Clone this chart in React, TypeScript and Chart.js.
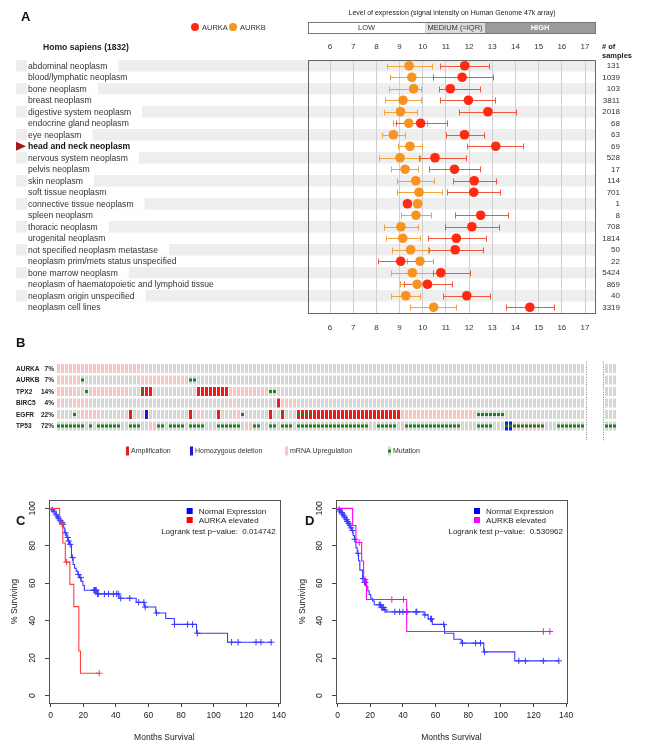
import React, { useEffect, useRef } from 'react';
import { Chart, registerables } from 'chart.js';
Chart.register(...registerables);

const SANS = '"Liberation Sans", Arial, Helvetica, sans-serif';

// ---------------- Panel A data ----------------
const categories = [
  'abdominal neoplasm', 'blood/lymphatic neoplasm', 'bone neoplasm', 'breast neoplasm',
  'digestive system neoplasm', 'endocrine gland neoplasm', 'eye neoplasm', 'head and neck neoplasm',
  'nervous system neoplasm', 'pelvis neoplasm', 'skin neoplasm', 'soft tissue neoplasm',
  'connective tissue neoplasm', 'spleen neoplasm', 'thoracic neoplasm', 'urogenital neoplasm',
  'not specified neoplasm metastase', 'neoplasm prim/mets status unspecified', 'bone marrow neoplasm',
  'neoplasm of haematopoietic and lymphoid tissue', 'neoplasm origin unspecified', 'neoplasm cell lines',
];
const highlightCategory = 'head and neck neoplasm';
const sampleCounts = [131, 1039, 103, 3811, 2018, 68, 63, 69, 528, 17, 114, 701, 1, 8, 708, 1814, 50, 22, 5424, 869, 40, 3319];
const aurkaMean = [11.81, 11.70, 11.19, 11.97, 12.81, 9.91, 11.80, 13.15, 10.53, 11.37, 12.22, 12.20, 9.34, 12.50, 12.12, 11.45, 11.40, 9.05, 10.78, 10.20, 11.90, 14.62];
const aurkaLow = [10.76, 10.43, 10.69, 10.76, 11.55, 8.85, 10.99, 11.93, 9.86, 10.29, 11.31, 11.05, null, 11.38, 10.95, 10.22, 10.29, 8.09, 10.46, 9.21, 10.86, 13.58];
const aurkaHigh = [12.88, 13.01, 12.45, 13.12, 14.03, 11.04, 12.63, 14.33, 11.87, 12.46, 13.18, 13.35, null, 13.67, 13.29, 12.71, 12.62, 9.95, 12.03, 11.25, 12.92, 15.68];
const aurkbMean = [9.41, 9.53, 9.61, 9.15, 9.04, 9.40, 8.73, 9.45, 9.02, 9.24, 9.70, 9.84, 9.78, 9.71, 9.06, 9.14, 9.48, 9.88, 9.55, 9.76, 9.27, 10.47];
const aurkbLow = [8.45, 8.59, 8.53, 8.39, 8.35, 8.70, 8.23, 8.92, 8.13, 8.65, 8.88, 8.88, null, 9.08, 8.35, 8.40, 8.66, 9.30, 8.65, 9.04, 8.62, 9.47];
const aurkbHigh = [10.39, 10.43, 9.91, 9.91, 9.77, 10.20, 9.24, 9.99, 9.88, 9.81, 10.50, 10.85, null, 10.37, 9.81, 9.90, 10.22, 10.46, 10.46, 10.35, 9.90, 11.45];
const levelLabels = ['LOW', 'MEDIUM (=IQR)', 'HIGH'];
const levelBreaks = [10.1, 12.69];
const exprMin = 5.051;
const exprMax = 17.431;

// ---------------- Panel B data ----------------
const oncoGenes = ['AURKA', 'AURKB', 'TPX2', 'BIRC5', 'EGFR', 'TP53'];
const oncoPercents = ['7%', '7%', '14%', '4%', '22%', '72%'];
const mainCaseCount = 132;
const gapCaseCount = 5;
const extraCaseCount = 3;
const mrnaUpRuns = [
  [[0, 20]],
  [[0, 5], [21, 32]],
  [[0, 4], [8, 17], [43, 52]],
  [[0, 1], [4, 7], [43, 43], [56, 59]],
  [[6, 10], [35, 36], [44, 45], [86, 104]],
  [[23, 24], [47, 48], [86, 86], [114, 121]],
];
const amplificationRuns = [[], [], [[21, 23], [35, 42]], [[55, 55]], [[18, 18], [33, 33], [40, 40], [53, 53], [56, 56], [60, 85]], []];
const deletionRuns = [[], [], [], [], [[22, 22]], [[112, 113]]];
const mutationRuns = [
  [],
  [[6, 6], [33, 34]],
  [[7, 7], [21, 21], [53, 54]],
  [],
  [[4, 4], [46, 46], [56, 56], [60, 63], [105, 111]],
  [[0, 6], [8, 8], [10, 15], [18, 20], [25, 26], [28, 31], [33, 36], [40, 45], [49, 50], [53, 54], [56, 58], [60, 77], [80, 84], [87, 100], [105, 108], [112, 121], [125, 131]],
];
const extraMutationRuns = [[], [], [], [], [], [[0, 2]]];
const legendItemsB = ['Amplification', 'Homozygous deletion', 'mRNA Upregulation', 'Mutation'];

// ---------------- Panels C / D data ----------------
const cNormalTimes = [0.5, 1.5, 2.5, 3.2, 4.0, 4.8, 5.5, 6.3, 7.2, 8.0, 8.7, 9.8, 10.6, 11.6, 12.8, 13.8, 14.7, 15.7, 16.7, 17.7, 18.7, 19.8, 20.7, 28.5, 42, 52.5, 57.5, 64.5, 70.6, 75.9, 89.5, 108.5];
const cNormalSurv = [99.3, 98.5, 97.5, 96.5, 95.5, 94.5, 93.5, 92.5, 91.5, 89.5, 87, 84.5, 82.6, 80.8, 73.7, 70, 68, 66.5, 64.7, 63, 61, 58.8, 56.3, 54.3, 52, 49.8, 47.3, 44.1, 41.2, 38, 33.3, 28.5];
const cNormalEnd = 135.3;
const cNormalCensor = [1, 2, 3.5, 4.5, 5, 6, 7, 7.5, 9, 10.5, 11, 12, 13.5, 17, 18.5, 26.5, 27, 27.5, 28, 28.8, 29.2, 33, 35.5, 38.5, 40.5, 41.5, 43, 48.5, 54, 57.2, 58, 65, 76, 84, 87, 90, 111, 115, 126, 129, 135.3];
const cElevTimes = [5.5, 7.5, 9.0, 11.8, 14.2, 17.3, 18.3];
const cElevSurv = [91.7, 81.5, 71.3, 59.4, 47.5, 23.8, 11.9];
const cElevEnd = 29.8;
const cElevCensor = [7.0, 9.8, 29.8];

const dNormalTimes = [0.5, 1.2, 2.0, 2.8, 3.5, 4.3, 5.0, 5.7, 6.4, 7.1, 7.8, 8.6, 9.5, 10.2, 11.2, 12.0, 12.8, 13.6, 15.3, 16.3, 17.3, 18.5, 19.3, 20.3, 21.4, 22.4, 26.8, 28.5, 29.6, 52.9, 55.5, 58, 65.5, 71.2, 75.7, 89.5, 108.5];
const dNormalSurv = [99.3, 98.6, 97.8, 97, 96, 95, 94, 93, 92, 91, 89.6, 88.2, 85.5, 83.5, 79, 76, 72, 67, 62.5, 60.5, 58.4, 56, 54, 52, 50.5, 48.5, 47, 45.8, 44.7, 43.1, 40.9, 38, 33.3, 30.1, 28, 23.3, 18.5];
const dNormalEnd = 135.5;
const dNormalCensor = [1, 1.5, 2.5, 3, 4, 4.5, 5.5, 6, 6.8, 7.5, 8.2, 9, 10.5, 12.5, 15.5, 16.5, 17, 25.5, 26.3, 27, 27.6, 28.2, 29, 35, 38, 40, 42.5, 48, 48.5, 53.5, 57, 57.5, 65, 76.5, 84.5, 87.5, 90, 111, 115, 126, 135.5];
const dElevTimes = [9.2, 11.2, 14.7, 15.9, 17.7, 42.3];
const dElevSurv = [90.9, 81.8, 71.9, 62, 51.3, 34.2];
const dElevEnd = 130;
const dElevCensor = [13.2, 16.8, 33.2, 40.3, 126, 130];

// ---------------- Panel A ----------------
const panelAPlugin = {
  id: 'panelADecor',
  beforeDraw(chart: any) {
    const { ctx, chartArea: ca } = chart;
    const y = chart.scales.y;
    const rowH = (ca.bottom - ca.top) / categories.length;
    ctx.save();
    categories.forEach((name, i) => {
      const yc = y.getPixelForValue(i);
      const bold = name === highlightCategory;
      ctx.font = `${bold ? 'bold ' : ''}8.6px ${SANS}`;
      if (i % 2 === 0) {
        ctx.fillStyle = '#eeeeee';
        ctx.fillRect(16, yc - rowH / 2, ca.right - 16, rowH);
        const w = ctx.measureText(name).width;
        ctx.fillStyle = '#ffffff';
        ctx.fillRect(27, yc - rowH / 2, w + 12, rowH);
      }
      ctx.fillStyle = bold ? '#111' : '#333';
      ctx.textBaseline = 'middle';
      ctx.textAlign = 'left';
      ctx.fillText(name, 28, yc + 0.5);
      if (bold) {
        ctx.fillStyle = '#a31a1a';
        ctx.beginPath();
        ctx.moveTo(16, yc - 4.5);
        ctx.lineTo(26, yc);
        ctx.lineTo(16, yc + 4.5);
        ctx.closePath();
        ctx.fill();
      }
    });
    ctx.restore();
  },
  beforeDatasetsDraw(chart: any) {
    const { ctx } = chart;
    const x = chart.scales.x;
    const y = chart.scales.y;
    const drawBars = (lows: (number | null)[], highs: (number | null)[], color: string) => {
      ctx.strokeStyle = color;
      ctx.lineWidth = 1;
      lows.forEach((lo, i) => {
        const hi = highs[i];
        if (lo == null || hi == null) return;
        const yc = Math.round(y.getPixelForValue(i)) + 0.5;
        const x1 = Math.round(x.getPixelForValue(lo)) + 0.5;
        const x2 = Math.round(x.getPixelForValue(hi)) + 0.5;
        ctx.beginPath();
        ctx.moveTo(x1, yc); ctx.lineTo(x2, yc);
        ctx.moveTo(x1, yc - 3); ctx.lineTo(x1, yc + 3);
        ctx.moveTo(x2, yc - 3); ctx.lineTo(x2, yc + 3);
        ctx.stroke();
      });
    };
    ctx.save();
    drawBars(aurkbLow, aurkbHigh, '#f4a23c');
    drawBars(aurkaLow, aurkaHigh, '#f2563a');
    ctx.restore();
  },
  afterDraw(chart: any) {
    const { ctx, chartArea: ca } = chart;
    const x = chart.scales.x;
    const y = chart.scales.y;
    ctx.save();
    // plot frame
    ctx.strokeStyle = '#666';
    ctx.lineWidth = 1;
    ctx.strokeRect(Math.round(ca.left) + 0.5, Math.round(ca.top) + 0.5, Math.round(ca.right - ca.left), Math.round(ca.bottom - ca.top));
    // panel letter
    ctx.fillStyle = '#111';
    ctx.font = `bold 13px ${SANS}`;
    ctx.textBaseline = 'middle';
    ctx.textAlign = 'left';
    ctx.fillText('A', 21, 17);
    // title
    ctx.font = `bold 8.6px ${SANS}`;
    ctx.fillStyle = '#222';
    ctx.fillText('Homo sapiens (1832)', 43, 47.5);
    // legend
    const leg = [['AURKA', '#ff2a10', 195], ['AURKB', '#f7931e', 233]] as [string, string, number][];
    ctx.font = `7.5px ${SANS}`;
    leg.forEach(([t, c, lx]) => {
      ctx.fillStyle = c;
      ctx.beginPath();
      ctx.arc(lx, 27, 4, 0, Math.PI * 2);
      ctx.fill();
      ctx.fillStyle = '#333';
      ctx.fillText(t, lx + 7, 27.5);
    });
    // expression level header and bar
    ctx.font = `7px ${SANS}`;
    ctx.textAlign = 'center';
    ctx.fillStyle = '#222';
    ctx.fillText('Level of expression (signal intensity on Human Genome 47k array)', 452, 13.5);
    const bx = [x.getPixelForValue(exprMin), x.getPixelForValue(levelBreaks[0]), x.getPixelForValue(levelBreaks[1]), x.getPixelForValue(exprMax)].map((v: number) => Math.round(v));
    const fills = ['#ffffff', '#dcdcdc', '#9b9b9b'];
    const txtCol = ['#333', '#333', '#ffffff'];
    for (let k = 0; k < 3; k++) {
      ctx.fillStyle = fills[k];
      ctx.fillRect(bx[k], 22, bx[k + 1] - bx[k], 11);
      ctx.font = `${k === 2 ? 'bold ' : ''}7.5px ${SANS}`;
      ctx.fillStyle = txtCol[k];
      ctx.fillText(levelLabels[k], (bx[k] + bx[k + 1]) / 2, 28);
    }
    ctx.strokeStyle = '#777';
    ctx.strokeRect(bx[0] + 0.5, 22.5, bx[3] - bx[0], 11);
    // samples
    ctx.textAlign = 'left';
    ctx.font = `bold 7.5px ${SANS}`;
    ctx.fillStyle = '#222';
    ctx.fillText('# of', 602, 47);
    ctx.fillText('samples', 602, 56);
    ctx.textAlign = 'right';
    ctx.font = `8px ${SANS}`;
    ctx.fillStyle = '#333';
    sampleCounts.forEach((n, i) => {
      ctx.fillText(String(n), 620, y.getPixelForValue(i) + 0.5);
    });
    ctx.restore();
  },
};

function panelAConfig(): any {
  const tickFont = { family: SANS, size: 8 };
  return {
    type: 'scatter',
    data: {
      datasets: [
        {
          label: 'AURKA',
          data: aurkaMean.map((v, i) => ({ x: v, y: categories[i] })),
          pointRadius: 4.8,
          pointBackgroundColor: '#ff2a10',
          pointBorderWidth: 0,
          borderWidth: 0,
        },
        {
          label: 'AURKB',
          data: aurkbMean.map((v, i) => ({ x: v, y: categories[i] })),
          pointRadius: 4.8,
          pointBackgroundColor: '#f7931e',
          pointBorderWidth: 0,
          borderWidth: 0,
        },
      ],
    },
    options: {
      responsive: false,
      animation: false,
      events: [],
      layout: { padding: { left: 308, right: 52, top: 40, bottom: 7 } },
      plugins: { legend: { display: false }, tooltip: { enabled: false } },
      scales: {
        x: {
          type: 'linear', position: 'bottom', min: exprMin, max: exprMax,
          afterFit: (s: any) => { s.height = 20; },
          border: { display: false },
          grid: { color: '#cfcfcf', drawTicks: false },
          ticks: { stepSize: 1, includeBounds: false, padding: 10, color: '#333', font: tickFont },
        },
        x2: {
          type: 'linear', position: 'top', min: exprMin, max: exprMax,
          afterFit: (s: any) => { s.height = 20; },
          border: { display: false },
          grid: { display: false, drawTicks: false },
          ticks: { stepSize: 1, includeBounds: false, padding: 8, color: '#333', font: tickFont },
        },
        y: { type: 'category', labels: categories, offset: true, display: false },
      },
    },
    plugins: [panelAPlugin],
  };
}

// ---------------- Panel B ----------------
const totalCols = mainCaseCount + gapCaseCount + extraCaseCount;
const colorCells = { none: '#d6d6d6', up: '#f4c6c6', amp: '#ec1b1b', del: '#1515e6' };

function buildOnco() {
  const fill = (runs: number[][], offset: number, arr: any[], val: any) => {
    runs.forEach(([a, b]) => { for (let c = a; c <= b; c++) arr[c + offset] = val; });
  };
  const colors = oncoGenes.map((_, g) => {
    const arr: string[] = new Array(totalCols).fill(colorCells.none);
    fill(mrnaUpRuns[g], 0, arr, colorCells.up);
    fill(amplificationRuns[g], 0, arr, colorCells.amp);
    fill(deletionRuns[g], 0, arr, colorCells.del);
    return arr;
  });
  const muts = oncoGenes.map((_, g) => {
    const arr: boolean[] = new Array(totalCols).fill(false);
    fill(mutationRuns[g], 0, arr, true);
    fill(extraMutationRuns[g], mainCaseCount + gapCaseCount, arr, true);
    return arr;
  });
  return { colors, muts };
}

const isGap = (c: number) => c >= mainCaseCount && c < mainCaseCount + gapCaseCount;

const panelBPlugin = {
  id: 'panelBDecor',
  afterDraw(chart: any) {
    const { ctx } = chart;
    const x = chart.scales.x;
    const y = chart.scales.y;
    ctx.save();
    ctx.fillStyle = '#111';
    ctx.font = `bold 13px ${SANS}`;
    ctx.textBaseline = 'middle';
    ctx.textAlign = 'left';
    ctx.fillText('B', 16, 8);
    ctx.font = `bold 6.5px ${SANS}`;
    oncoGenes.forEach((g, gi) => {
      const yc = y.getPixelForValue(gi + 0.5);
      ctx.fillStyle = '#222';
      ctx.textAlign = 'left';
      ctx.fillText(g, 16, yc + 0.5);
      ctx.textAlign = 'right';
      ctx.fillText(oncoPercents[gi], 54, yc + 0.5);
    });
    // dotted separators
    ctx.strokeStyle = '#777';
    ctx.setLineDash([1, 1.5]);
    ctx.lineWidth = 1;
    const top = y.getPixelForValue(0) - 1;
    const bot = y.getPixelForValue(6) + 10;
    [x.getPixelForValue(mainCaseCount) - 1, x.getPixelForValue(mainCaseCount + gapCaseCount - 1)].forEach((px: number) => {
      const xx = Math.round(px) + 0.5;
      ctx.beginPath();
      ctx.moveTo(xx, top);
      ctx.lineTo(xx, bot);
      ctx.stroke();
    });
    ctx.setLineDash([]);
    // legend
    const ly = 116;
    const items: [string, number, string][] = [
      [legendItemsB[0], 126, colorCells.amp],
      [legendItemsB[1], 190, colorCells.del],
      [legendItemsB[2], 285, colorCells.up],
      [legendItemsB[3], 388, colorCells.none],
    ];
    ctx.font = `7px ${SANS}`;
    ctx.textAlign = 'left';
    items.forEach(([t, lx, c], k) => {
      ctx.fillStyle = c;
      ctx.fillRect(lx, ly - 4.5, 3, 9);
      if (k === 3) {
        ctx.fillStyle = '#138a13';
        ctx.fillRect(lx, ly - 1.5, 3, 3);
      }
      ctx.fillStyle = '#333';
      ctx.fillText(t, lx + 5, ly + 0.5);
    });
    ctx.restore();
  },
};

function panelBConfig(): any {
  const { colors, muts } = buildOnco();
  const labels = Array.from({ length: totalCols }, (_, i) => `case${i + 1}`);
  const common = { grouped: false, barPercentage: 0.75, categoryPercentage: 1, borderWidth: 0, borderSkipped: false };
  const mutDatasets = oncoGenes.map((g, gi) => ({
    ...common,
    label: `${g} mutation`,
    data: labels.map((_, c) => (muts[gi][c] ? [gi + 0.37, gi + 0.63] : null)),
    backgroundColor: '#138a13',
  }));
  const cellDatasets = oncoGenes.map((g, gi) => ({
    ...common,
    label: g,
    data: labels.map((_, c) => (isGap(c) ? null : [gi + 0.1, gi + 0.9])),
    backgroundColor: colors[gi],
  }));
  return {
    type: 'bar',
    data: { labels, datasets: [...mutDatasets, ...cellDatasets] },
    options: {
      responsive: false,
      animation: false,
      events: [],
      layout: { padding: { left: 56.5, right: 30.5, top: 27.75, bottom: 38.25 } },
      plugins: { legend: { display: false }, tooltip: { enabled: false } },
      scales: {
        x: { display: false, offset: true, grid: { display: false } },
        y: { display: false, min: 0, max: 6, reverse: true },
      },
    },
    plugins: [panelBPlugin],
  };
}

// ---------------- Panels C / D ----------------
const survAt = (t: number, times: number[], surv: number[]) => {
  let s = 100;
  times.forEach((tt, i) => { if (tt <= t) s = surv[i]; });
  return s;
};
const kmCurve = (times: number[], surv: number[], end: number) => [
  { x: 0, y: 100 },
  ...times.map((t, i) => ({ x: t, y: surv[i] })),
  { x: end, y: surv[surv.length - 1] },
];
const kmMarks = (cens: number[], times: number[], surv: number[]) => cens.map((t) => ({ x: t, y: survAt(t, times, surv) }));

const kmPlugin = {
  id: 'kmDecor',
  afterDraw(chart: any, _args: any, opts: any) {
    const { ctx, chartArea: ca } = chart;
    const y = chart.scales.y;
    ctx.save();
    ctx.strokeStyle = '#555';
    ctx.lineWidth = 1;
    ctx.strokeRect(Math.round(ca.left) + 0.5, Math.round(ca.top) + 0.5, Math.round(ca.right - ca.left), Math.round(ca.bottom - ca.top));
    ctx.fillStyle = '#222';
    ctx.font = `8.5px ${SANS}`;
    ctx.textAlign = 'center';
    ctx.textBaseline = 'middle';
    y.ticks.forEach((t: any) => {
      const py = y.getPixelForValue(t.value);
      ctx.save();
      ctx.translate(ca.left - 16, py);
      ctx.rotate(-Math.PI / 2);
      ctx.fillText(String(t.value), 0, 0);
      ctx.restore();
    });
    // letter
    ctx.font = `bold 13px ${SANS}`;
    ctx.textAlign = 'left';
    ctx.fillStyle = '#111';
    ctx.fillText(opts.letter, opts.letterX, 31);
    // legend
    ctx.font = `8px ${SANS}`;
    const rows: [string, string][] = [['Normal Expression', '#0000ff'], [opts.elevLabel, opts.elevSquare]];
    rows.forEach(([t, c], k) => {
      const ly = ca.top + 11 + k * 9;
      ctx.fillStyle = c;
      ctx.fillRect(ca.right - 93, ly - 3, 6, 6);
      ctx.fillStyle = '#222';
      ctx.fillText(t, ca.right - 81, ly + 0.5);
    });
    ctx.textAlign = 'right';
    ctx.fillText(`Logrank test p\u2212value:  ${opts.pValue}`, ca.right - 4, ca.top + 31.5);
    ctx.restore();
  },
};

function kmConfig(p: any): any {
  const blue = '#3838ff';
  const tickFont = { family: SANS, size: 8.5 };
  return {
    type: 'line',
    data: {
      datasets: [
        { data: kmMarks(p.elevCensor, p.elevTimes, p.elevSurv), showLine: false, pointStyle: 'cross', pointRadius: 3.2, pointBorderWidth: 1, pointBorderColor: p.elevColor, borderColor: p.elevColor },
        { data: kmCurve(p.elevTimes, p.elevSurv, p.elevEnd), stepped: true, borderColor: p.elevColor, borderWidth: 1.1, pointRadius: 0, fill: false },
        { data: kmMarks(p.normalCensor, p.normalTimes, p.normalSurv), showLine: false, pointStyle: 'cross', pointRadius: 3.2, pointBorderWidth: 1, pointBorderColor: blue, borderColor: blue },
        { data: kmCurve(p.normalTimes, p.normalSurv, p.normalEnd), stepped: true, borderColor: blue, borderWidth: 1.1, pointRadius: 0, fill: false },
      ],
    },
    options: {
      responsive: false,
      animation: false,
      events: [],
      layout: { padding: { left: 0, right: p.padRight, top: 10, bottom: 0 } },
      plugins: {
        legend: { display: false },
        tooltip: { enabled: false },
        kmDecor: { letter: p.letter, letterX: p.letterX, elevLabel: p.elevLabel, elevSquare: p.elevSquare, pValue: p.pValue },
      },
      scales: {
        x: {
          type: 'linear', min: -1, max: 140.5,
          afterFit: (s: any) => { s.height = 47; },
          border: { display: false },
          grid: { drawOnChartArea: false, drawTicks: true, tickLength: 4, color: '#444' },
          ticks: { stepSize: 20, includeBounds: false, padding: 4, color: '#222', font: tickFont, maxRotation: 0 },
          title: { display: true, text: 'Months Survival', color: '#222', font: { family: SANS, size: 8.5 }, padding: { top: 0, bottom: 7.5 } },
        },
        y: {
          type: 'linear', min: -4, max: 104.5,
          afterFit: (s: any) => { s.width = p.axisWidth; },
          border: { display: false },
          grid: { drawOnChartArea: false, drawTicks: true, tickLength: 4, color: '#444' },
          ticks: { display: false, stepSize: 20, includeBounds: false },
          title: { display: true, text: '% Surviving', color: '#222', font: { family: SANS, size: 8.5 }, padding: { top: p.titlePad, bottom: 0 } },
        },
      },
    },
    plugins: [kmPlugin],
  };
}

export default function App() {
  const aRef = useRef<HTMLCanvasElement>(null);
  const bRef = useRef<HTMLCanvasElement>(null);
  const cRef = useRef<HTMLCanvasElement>(null);
  const dRef = useRef<HTMLCanvasElement>(null);

  useEffect(() => {
    const charts = [
      new Chart(aRef.current as HTMLCanvasElement, panelAConfig()),
      new Chart(bRef.current as HTMLCanvasElement, panelBConfig()),
      new Chart(cRef.current as HTMLCanvasElement, kmConfig({
        normalTimes: cNormalTimes, normalSurv: cNormalSurv, normalEnd: cNormalEnd, normalCensor: cNormalCensor,
        elevTimes: cElevTimes, elevSurv: cElevSurv, elevEnd: cElevEnd, elevCensor: cElevCensor,
        elevColor: '#ff3f3f', elevSquare: '#ff0000', elevLabel: 'AURKA elevated', pValue: '0.014742',
        letter: 'C', letterX: 16, axisWidth: 49, padRight: 10, titlePad: 9.5,
      })),
      new Chart(dRef.current as HTMLCanvasElement, kmConfig({
        normalTimes: dNormalTimes, normalSurv: dNormalSurv, normalEnd: dNormalEnd, normalCensor: dNormalCensor,
        elevTimes: dElevTimes, elevSurv: dElevSurv, elevEnd: dElevEnd, elevCensor: dElevCensor,
        elevColor: '#ff00ff', elevSquare: '#ff00ff', elevLabel: 'AURKB elevated', pValue: '0.530962',
        letter: 'D', letterX: 15, axisWidth: 46, padRight: 80, titlePad: 7.5,
      })),
    ];
    return () => charts.forEach((c) => c.destroy());
  }, []);

  return (
    <div style={{ position: 'absolute', left: 0, top: 0, width: 647, height: 750, background: '#ffffff', overflow: 'hidden' }}>
      <canvas ref={aRef} width={647} height={340} style={{ position: 'absolute', left: 0, top: 0 }} />
      <canvas ref={bRef} width={647} height={135} style={{ position: 'absolute', left: 0, top: 335 }} />
      <canvas ref={cRef} width={290} height={260} style={{ position: 'absolute', left: 0, top: 490 }} />
      <canvas ref={dRef} width={357} height={260} style={{ position: 'absolute', left: 290, top: 490 }} />
    </div>
  );
}
